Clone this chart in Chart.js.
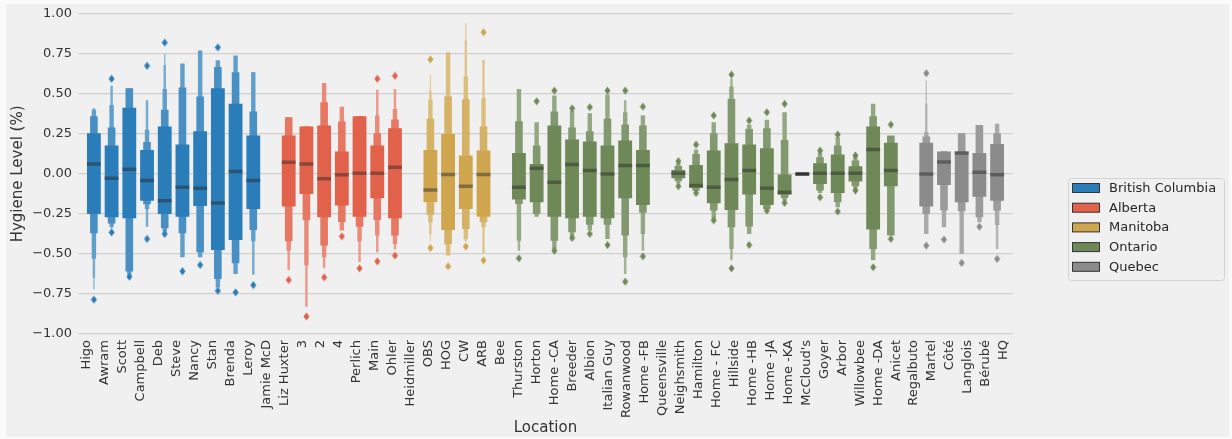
<!DOCTYPE html>
<html>
<head>
<meta charset="utf-8">
<script src="https://cdn.jsdelivr.net/npm/chart.js@4.4.1/dist/chart.umd.min.js"></script>
<style>
  html, body { margin: 0; padding: 0; background: #fafafa; }
  #wrap { position: relative; width: 1232px; height: 439px; }
  #panel { position: absolute; left: 6px; top: 4px; width: 1223px; height: 433px; background: #f0f0f0; }
  #c { position: absolute; left: 0; top: 0; }
</style>
</head>
<body>
<div id="wrap"><div id="panel"></div><canvas id="c" width="1232" height="439"></canvas></div>
<script>
// Sampling sites, in plotting order
const LOCATIONS = [
  'Higo', 'Awram', 'Scott', 'Campbell', 'Deb', 'Steve', 'Nancy', 'Stan', 'Brenda', 'Leroy', 'Jamie McD',
  'Liz Huxter', '3', '2', '4', 'Perlich', 'Main', 'Ohler', 'Heidmiller',
  'OBS', 'HOG', 'CW', 'ARB', 'Bee',
  'Thurston', 'Horton', 'Home -CA', 'Breeder', 'Albion', 'Italian Guy', 'Rowanwood', 'Home -FB', 'Queensville',
  'Neighsmith', 'Hamilton', 'Home - FC', 'Hillside', 'Home -HB', 'Home -JA', 'Home -KA', "McCloud's",
  'Goyer', 'Arbor', 'Willowbee', 'Home -DA', 'Anicet',
  'Regalbuto', 'Martel', 'Côté', 'Langlois', 'Bérubé', 'HQ'
];

const PROVINCES = ['British Columbia', 'Alberta', 'Manitoba', 'Ontario', 'Quebec'];

// Province of each location (index into PROVINCES)
const LOCATION_PROVINCE = [
  0, 0, 0, 0, 0, 0, 0, 0, 0, 0, 0,
  1, 1, 1, 1, 1, 1, 1, 1,
  2, 2, 2, 2, 2,
  3, 3, 3, 3, 3, 3, 3, 3, 3,
  3, 3, 3, 3, 3, 3, 3, 3,
  3, 3, 3, 3, 3,
  4, 4, 4, 4, 4, 4
];

const PROVINCE_COLORS = ['#2a7db9', '#e2614a', '#cfa64e', '#6e8857', '#8b8b8b'];

// Median hygiene level per location (null = no samples)
const MEDIANS = [
  0.0625, -0.027, 0.029, -0.042, -0.167, -0.083, -0.09, -0.181, 0.015, -0.042, null,
  0.073, 0.0625, -0.031, -0.006, 0.004, 0.004, 0.042, null,
  -0.1, -0.004, -0.077, -0.004, null,
  -0.083, 0.035, -0.052, 0.058, 0.021, 0.0, 0.052, 0.052, null,
  0.004, -0.073, -0.083, -0.035, 0.021, -0.09, -0.115, 0.0,
  0.004, 0.004, 0.004, 0.152, 0.021,
  null, 0.0, 0.075, 0.131, 0.01, -0.006
];

// Letter-value boxes, innermost (quartiles) first: [low, high]
const LEVEL_1 = [
  [-0.25, 0.254], [-0.27, 0.177], [-0.277, 0.4125], [-0.167, 0.15], [-0.25, 0.296], [-0.267, 0.183],
  [-0.2, 0.267], [-0.475, 0.535], [-0.4125, 0.4375], [-0.219, 0.24], null,
  [-0.204, 0.24], [-0.125, 0.296], [-0.27, 0.302], [-0.198, 0.14], [-0.267, 0.36], [-0.152, 0.177], [-0.277, 0.285], null,
  [-0.177, 0.15], [-0.35, 0.25], [-0.219, 0.115], [-0.267, 0.146], null,
  [-0.16, 0.131], [-0.177, 0.0625], [-0.267, 0.302], [-0.277, 0.215], [-0.267, 0.202], [-0.277, 0.177],
  [-0.152, 0.208], [-0.194, 0.15], null,
  [-0.027, 0.025], [-0.0875, 0.056], [-0.183, 0.146], [-0.225, 0.192], [-0.129, 0.183], [-0.194, 0.16],
  [-0.131, 0.0], [0, 0],
  [-0.0625, 0.067], [-0.119, 0.121], [-0.048, 0.048], [-0.348, 0.296], [-0.077, 0.194],
  null, [-0.204, 0.194], [-0.069, 0.14], [-0.177, 0.14], [-0.142, 0.131], [-0.167, 0.1875]
];

const LEVEL_2 = [
  [-0.37, 0.36], [-0.31, 0.29], [-0.61, 0.535], [-0.19, 0.2], [-0.34, 0.4], [-0.37, 0.54],
  [-0.49, 0.483], [-0.656, 0.667], [-0.558, 0.635], [-0.35, 0.39], null,
  [-0.42, 0.354], [-0.29, 0.296], [-0.448, 0.448], [-0.3, 0.327], [-0.33, 0.36], [-0.2875, 0.254], [-0.385, 0.34], null,
  [-0.256, 0.344], [-0.44, 0.483], [-0.344, 0.467], [-0.302, 0.296], null,
  [-0.1875, 0.329], [-0.25, 0.177], [-0.417, 0.39], [-0.365, 0.29], [-0.317, 0.267], [-0.317, 0.344],
  [-0.385, 0.308], [-0.242, 0.302], null,
  [-0.045, 0.05], [-0.104, 0.125], [-0.229, 0.254], [-0.333, 0.469], [-0.329, 0.281], [-0.219, 0.285],
  [-0.15, 0.2125], null,
  [-0.104, 0.104], [-0.177, 0.177], [-0.077, 0.083], [-0.469, 0.36], [-0.385, 0.24],
  null, [-0.25, 0.233], [-0.229, 0.14], [-0.233, 0.254], [-0.27, 0.306], [-0.229, 0.254]
];

const LEVEL_3 = [
  [-0.53, 0.4], [-0.33, 0.43], [-0.63, 0.535], [-0.22, 0.275], [-0.36, 0.53], [-0.52, 0.69],
  [-0.52, 0.77], [-0.71, 0.71], [-0.625, 0.74], [-0.42, 0.635], null,
  [-0.48, 0.354], [-0.57, 0.296], [-0.52, 0.567], [-0.354, 0.42], [-0.42, 0.36], [-0.385, 0.365], [-0.4375, 0.406], null,
  [-0.302, 0.4625], [-0.51, 0.76], [-0.406, 0.608], [-0.333, 0.473], null,
  [-0.417, 0.531], [-0.267, 0.323], [-0.469, 0.49], [-0.396, 0.396], [-0.354, 0.379], [-0.406, 0.496],
  [-0.52, 0.385], [-0.375, 0.365], null,
  [-0.06, 0.068], [-0.11, 0.152], [-0.28, 0.323], [-0.469, 0.546], [-0.375, 0.308], [-0.219, 0.3375],
  [-0.167, 0.385], null,
  [-0.12, 0.135], [-0.208, 0.229], [-0.096, 0.104], [-0.54, 0.4375], null,
  null, [-0.375, 0.26], [-0.333, 0.14], [-0.5, 0.254], [-0.302, 0.306], [-0.319, 0.3125]
];

const LEVEL_4 = [
  [-0.65, 0.41], [-0.34, 0.55], null, [-0.33, 0.46], [-0.36, 0.68], null,
  null, null, null, [-0.63, 0.635], null,
  [-0.6, 0.354], [-0.83, 0.296], [-0.59, 0.567], null, [-0.55, 0.36], [-0.49, 0.525], [-0.47, 0.53], null,
  [-0.375, 0.52], null, [-0.42, 0.833], [-0.5, 0.7125], null,
  [-0.48, 0.531], null, null, null, null, null,
  [-0.625, 0.46], [-0.48, 0.365], null,
  null, null, null, [-0.54, 0.594], null, null,
  null, null,
  null, null, null, null, null,
  null, [-0.375, 0.4375], null, null, null, [-0.469, 0.3125]
];

const LEVEL_5 = [
  [-0.72, 0.41], null, null, null, [-0.36, 0.75], null,
  null, null, null, null, null,
  null, null, null, null, null, null, null, null,
  [-0.42, 0.62], null, [-0.42, 0.94], null, null,
  null, null, null, null, null, null,
  null, null, null,
  null, null, null, null, null, null,
  null, null,
  null, null, null, null, null,
  null, [-0.375, 0.583], null, null, null, null
];

// Points beyond the last letter value
const OUTLIERS = [
  [-0.785], [0.594, -0.365], [-0.642], [0.675, -0.406], [0.82, -0.375], [-0.608],
  [-0.569], [0.79, -0.73], [-0.74], [-0.694], [],
  [-0.6625], [-0.89], [-0.646], [-0.39], [-0.59], [0.594, -0.546], [0.6125, -0.51], [],
  [0.715, -0.4625], [-0.577], [-0.454], [0.885, -0.54], [],
  [-0.527], [0.454], [0.52, -0.48], [0.41, -0.4], [0.417, -0.375], [0.52, -0.444],
  [0.52, -0.673], [0.42, -0.515], [],
  [0.08, -0.077], [0.183, -0.119], [0.365, -0.29], [0.62, -0.59], [0.333, -0.444], [0.385, -0.229],
  [0.4375, -0.181], [],
  [0.146, -0.146], [0.246, -0.235], [0.115, -0.104], [-0.583], [0.308, -0.406],
  [], [0.629, -0.448], [-0.41], [-0.556], [-0.33], [-0.531]
];

const LEVELS = [LEVEL_1, LEVEL_2, LEVEL_3, LEVEL_4, LEVEL_5];

// Drawing styles for the nested boxes: relative width and tint towards white
const LEVEL_WIDTH = [0.78, 0.43, 0.25, 0.14, 0.08];
const LEVEL_TINT = [0, 0.14, 0.26, 0.36, 0.45];

function tint(hex, f) {
  const n = parseInt(hex.slice(1), 16);
  const ch = [(n >> 16) & 255, (n >> 8) & 255, n & 255].map(v => Math.round(v + (255 - v) * f));
  return 'rgb(' + ch.join(',') + ')';
}

function diamond(color) {
  const c = document.createElement('canvas');
  c.width = 7; c.height = 9;
  const g = c.getContext('2d');
  g.fillStyle = color;
  g.beginPath();
  g.moveTo(3.5, 0.5); g.lineTo(6.5, 4.5); g.lineTo(3.5, 8.5); g.lineTo(0.5, 4.5);
  g.closePath(); g.fill();
  return c;
}
const DIAMONDS = PROVINCE_COLORS.map(diamond);

function fmtTick(v) {
  const s = Math.abs(v).toFixed(2);
  return v < 0 ? '\u2212' + s : s;
}

const boxDatasets = LEVELS.map((level, k) => ({
  type: 'bar',
  label: 'level ' + (k + 1),
  data: level.map((r, i) => (r ? { x: i, y: r } : null)).filter(Boolean),
  backgroundColor: ctx => tint(PROVINCE_COLORS[LOCATION_PROVINCE[ctx.raw.x]], LEVEL_TINT[k]),
  borderWidth: 0,
  borderSkipped: false,
  grouped: false,
  categoryPercentage: 1,
  barPercentage: LEVEL_WIDTH[k],
  order: 5 + k
}));

const medianDataset = {
  type: 'scatter',
  label: 'median',
  data: MEDIANS.map((m, i) => (m === null ? null : { x: i, y: m })).filter(Boolean),
  showLine: false,
  pointStyle: 'line',
  pointRadius: 7,
  pointHoverRadius: 7,
  pointBorderWidth: 3.5,
  pointBorderColor: ctx => {
    const r = LEVEL_1[ctx.raw.x];
    return r && r[0] === r[1] ? '#333333' : 'rgba(38,38,38,0.45)';
  },
  order: 1
};

const outlierPoints = [];
OUTLIERS.forEach((vals, i) => vals.forEach(v => outlierPoints.push({ x: i, y: v })));

const outlierDataset = {
  type: 'scatter',
  label: 'outliers',
  data: outlierPoints,
  pointStyle: ctx => DIAMONDS[LOCATION_PROVINCE[ctx.raw.x]],
  pointRadius: 4,
  order: 0
};

// Framed province legend at the right of the plot
const provinceLegend = {
  id: 'provinceLegend',
  afterDraw(chart) {
    const g = chart.ctx;
    const left = chart.chartArea.right + 55;
    const top = 178;
    const w = 156, h = 102;
    g.save();
    g.beginPath();
    g.roundRect(left + 0.5, top + 0.5, w, h, 3);
    g.fillStyle = '#f0f0f0';
    g.fill();
    g.strokeStyle = '#d2d2d2';
    g.lineWidth = 1;
    g.stroke();
    g.font = '13px "DejaVu Sans"';
    g.textBaseline = 'middle';
    PROVINCES.forEach((name, i) => {
      const cy = top + 10 + i * 19.7;
      g.fillStyle = PROVINCE_COLORS[i];
      g.fillRect(left + 4.5, cy - 4.5, 27, 9);
      g.strokeStyle = '#333333';
      g.strokeRect(left + 4.5, cy - 4.5, 27, 9);
      g.fillStyle = '#262626';
      g.fillText(name, left + 41, cy + 0.5);
    });
    g.restore();
  }
};

Chart.defaults.font.family = '"DejaVu Sans", sans-serif';
Chart.defaults.color = '#333333';

const N = LOCATIONS.length;

new Chart(document.getElementById('c'), {
  data: {
    datasets: [...boxDatasets, medianDataset, outlierDataset]
  },
  options: {
    responsive: false,
    devicePixelRatio: 1,
    animation: false,
    events: [],
    layout: { padding: { left: 0, right: 219, top: 13, bottom: 0 } },
    plugins: {
      legend: { display: false },
      tooltip: { enabled: false }
    },
    scales: {
      x: {
        type: 'linear',
        position: 'bottom',
        min: -0.39,
        max: N - 1 + 0.39,
        // one tick label per location, spread across the full axis width
        afterBuildTicks: s => {
          s.ticks = LOCATIONS.map((_, i) => ({ value: s.min + i * (s.max - s.min) / (N - 1) }));
        },
        afterFit: s => { s.height = 105; },
        grid: { display: false, drawTicks: false },
        border: { display: false },
        ticks: {
          autoSkip: false,
          maxRotation: 90,
          minRotation: 90,
          padding: 6,
          font: { size: 13 },
          color: '#333333',
          callback: (v, i) => LOCATIONS[i]
        },
        title: {
          display: true,
          text: 'Location',
          font: { size: 15 },
          color: '#333333',
          padding: { top: 0, bottom: 2 }
        }
      },
      y: {
        type: 'linear',
        min: -1,
        max: 1,
        afterFit: s => { s.width = 78; },
        border: { display: false },
        grid: { color: '#d0d0d0', lineWidth: 1.3, drawTicks: false },
        ticks: {
          stepSize: 0.25,
          padding: 6,
          font: { size: 13 },
          color: '#333333',
          callback: v => fmtTick(v)
        },
        title: {
          display: true,
          text: 'Hygiene Level (%)',
          font: { size: 15 },
          color: '#333333',
          padding: { top: 9, bottom: 0 }
        }
      }
    }
  },
  plugins: [provinceLegend]
});
</script>
</body>
</html>
